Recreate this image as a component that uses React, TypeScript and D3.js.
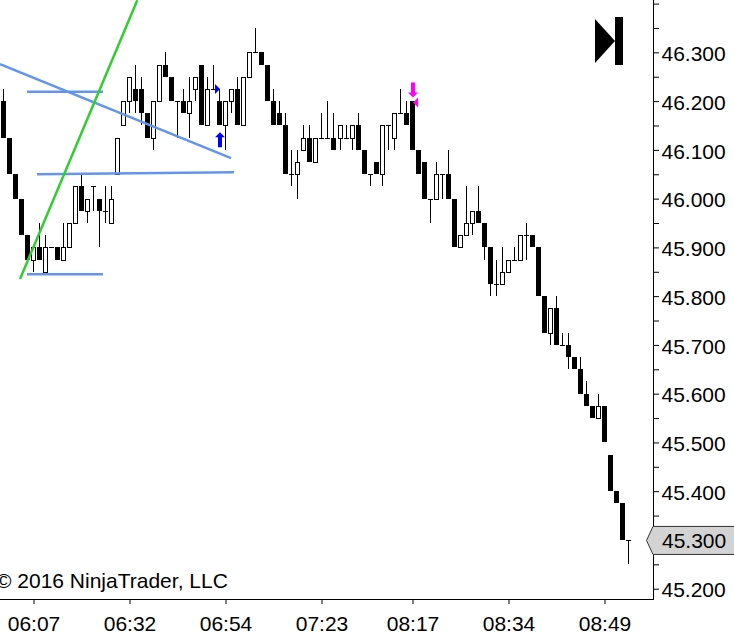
import { useEffect, useRef } from "react";
import * as d3 from "d3";

const opens = [46.2,46.125,46.05,46,45.925,45.875,45.9,45.85,45.9,45.9,45.875,45.9,45.95,46.025,45.975,46.025,46,45.975,45.95,46.05,46.15,46.2,46.225,46.225,46.175,46.125,46.2,46.275,46.25,46.2,46.2,46.175,46.225,46.275,46.15,46.225,46.2,46.15,46.2,46.225,46.15,46.25,46.3,46.3,46.275,46.2,46.175,46.15,46.05,46.05,46.1,46.125,46.075,46.125,46.125,46.125,46.125,46.125,46.125,46.15,46.1,46.05,46.075,46.05,46.15,46.125,46.175,46.175,46.2,46.1,46.075,46,46,46.05,46.05,46,45.9,45.925,45.95,45.975,45.95,45.9,45.825,45.825,45.85,45.875,45.875,45.925,45.925,45.9,45.8,45.725,45.775,45.7,45.7,45.675,45.65,45.6,45.575,45.55,45.575,45.475,45.4,45.375,45.3];
const highs = [46.225,46.125,46.05,46,45.925,45.9,45.95,45.925,45.9,45.9,45.95,45.95,46.025,46.05,46,46.025,46,46.025,46.025,46.125,46.2,46.25,46.275,46.25,46.175,46.2,46.275,46.3,46.25,46.2,46.225,46.25,46.25,46.275,46.25,46.275,46.225,46.2,46.225,46.25,46.25,46.3,46.35,46.3,46.275,46.225,46.2,46.175,46.1,46.1,46.15,46.15,46.125,46.175,46.2,46.175,46.15,46.15,46.15,46.175,46.1,46.05,46.075,46.15,46.15,46.175,46.225,46.2,46.2,46.1,46.075,46,46.075,46.05,46.1,46,45.925,46.025,45.975,46.025,45.95,45.9,45.875,45.9,45.875,45.9,45.925,45.95,45.925,45.9,45.8,45.775,45.8,45.725,45.725,45.675,45.675,45.625,45.575,45.6,45.575,45.475,45.4,45.375,45.3];
const lows = [46.125,46.05,46,45.925,45.875,45.85,45.875,45.85,45.9,45.875,45.875,45.9,45.95,45.975,45.95,45.975,45.9,45.95,45.95,46.05,46.15,46.175,46.175,46.15,46.125,46.1,46.2,46.25,46.2,46.125,46.175,46.125,46.2,46.15,46.15,46.225,46.15,46.1,46.175,46.15,46.15,46.25,46.3,46.275,46.2,46.15,46.15,46.05,46.025,46,46.1,46.075,46.075,46.125,46.125,46.1,46.1,46.125,46.1,46.1,46.05,46.025,46.05,46.025,46.1,46.1,46.175,46.15,46.1,46.05,46,45.95,46,46,46,45.9,45.9,45.925,45.925,45.95,45.875,45.8,45.8,45.825,45.85,45.875,45.875,45.875,45.9,45.8,45.725,45.7,45.7,45.7,45.65,45.65,45.6,45.575,45.55,45.55,45.5,45.4,45.375,45.3,45.25];
const closes = [46.125,46.05,46,45.925,45.875,45.9,45.875,45.9,45.9,45.875,45.9,45.95,46.025,45.975,46,46.025,45.975,45.975,46,46.125,46.2,46.25,46.2,46.175,46.125,46.2,46.275,46.25,46.2,46.2,46.175,46.2,46.25,46.15,46.225,46.225,46.15,46.2,46.225,46.15,46.25,46.3,46.3,46.275,46.2,46.15,46.15,46.05,46.05,46.075,46.125,46.075,46.125,46.125,46.125,46.1,46.15,46.125,46.15,46.1,46.05,46.05,46.05,46.15,46.15,46.175,46.175,46.15,46.1,46.05,46,46,46.05,46.05,46,45.9,45.925,45.95,45.975,45.95,45.9,45.825,45.825,45.85,45.875,45.875,45.925,45.925,45.9,45.8,45.725,45.775,45.7,45.7,45.675,45.65,45.6,45.575,45.55,45.575,45.5,45.4,45.375,45.3,45.3];

const timeTickBars = [5, 21, 37, 53, 68, 84, 100];
const timeTickLabels = ["06:07", "06:32", "06:54", "07:23", "08:17", "08:34", "08:49"];
const priceTicks = [45.25,45.3,45.35,45.4,45.45,45.5,45.55,45.6,45.65,45.7,45.75,45.8,45.85,45.9,45.95,46,46.05,46.1,46.15,46.2,46.25,46.3,46.35,46.4,45.2];
const priceLabels = [45.2,45.4,45.5,45.6,45.7,45.8,45.9,46,46.1,46.2,46.3];
const lastPrice = 45.3;

// drawing tools, [bar, price] at each end
const blueLines = [
  [[3.92, 46.219], [16.58, 46.219]],
  [[3.92, 45.845], [16.58, 45.845]],
  [[5.58, 46.05], [38.42, 46.054]],
  [[-0.58, 46.276], [37.92, 46.083]],
];
const greenLine = [[2.75, 45.835], [22.3, 46.407]];

const upArrows = [[36.08, 46.136]];
const downArrows = [[68.08, 46.2075]];
const rightMarkers = [[35.25, 46.225]];
const leftMarkers = [[68.1, 46.197]];

export default function App() {
  const svgRef = useRef<SVGSVGElement>(null);

  useEffect(() => {
    if (!svgRef.current) return;

    const svg = d3.select(svgRef.current);
    svg.selectAll("*").remove();

    const width = 734;
    const height = 641;
    const axisX = 653;
    const axisY = 599;
    const font = "'Liberation Sans', Arial, sans-serif";

    // the platform skips a pixel after bar 55
    const x = d3.scaleLinear().domain([0, 55, 56, 104]).range([3.5, 333.5, 340.5, 628.5]);
    const y = d3.scaleLinear().domain([45.2, 46.4]).range([588.7, 3.6]);
    const py = (v: number) => Math.round(y(v));

    const bars = opens.map((o, i) => ({ i, o, h: highs[i], l: lows[i], c: closes[i] }));

    const candles = svg.append("g").attr("shape-rendering", "crispEdges");

    // Wicks
    candles
      .selectAll("line")
      .data(bars.filter((b) => b.h !== b.l))
      .join("line")
      .attr("x1", (b) => x(b.i))
      .attr("x2", (b) => x(b.i))
      .attr("y1", (b) => py(b.h))
      .attr("y2", (b) => py(b.l))
      .attr("stroke", "#000");

    // Bodies
    candles
      .selectAll("rect.body")
      .data(bars.filter((b) => b.o !== b.c))
      .join("rect")
      .attr("class", "body")
      .attr("x", (b) => (b.c < b.o ? x(b.i) - 2.5 : x(b.i) - 2))
      .attr("y", (b) => (b.c < b.o ? py(b.o) : py(b.c) + 0.5))
      .attr("width", (b) => (b.c < b.o ? 5 : 4))
      .attr("height", (b) => (b.c < b.o ? py(b.c) - py(b.o) : py(b.o) - py(b.c)))
      .attr("fill", (b) => (b.c < b.o ? "#000" : "#fff"))
      .attr("stroke", (b) => (b.c < b.o ? "none" : "#000"));

    // Doji dashes
    candles
      .selectAll("rect.doji")
      .data(bars.filter((b) => b.o === b.c))
      .join("rect")
      .attr("class", "doji")
      .attr("x", (b) => x(b.i) - 2.5)
      .attr("y", (b) => py(b.o))
      .attr("width", 5)
      .attr("height", 1)
      .attr("fill", "#000");

    // Drawing tools
    const line = d3.line<number[]>().x((d) => x(d[0])).y((d) => y(d[1]));
    blueLines.forEach((l) => {
      svg.append("path")
        .attr("d", line(l) as string)
        .attr("fill", "none")
        .attr("stroke", "#6495ed")
        .attr("stroke-width", 2.5);
    });
    svg.append("path")
      .attr("d", line(greenLine) as string)
      .attr("fill", "none")
      .attr("stroke", "#32cd32")
      .attr("stroke-width", 2.5);

    // Signal arrows
    const arrow = (cx: number, tip: number, dir: number) =>
      `M${cx},${tip} l5,${dir * 5} h-3 v${dir * 10} h-4 v${-dir * 10} h-3 Z`;
    upArrows.forEach((a) => {
      svg.append("path").attr("d", arrow(x(a[0]), y(a[1]), 1)).attr("fill", "#0000ff");
    });
    downArrows.forEach((a) => {
      svg.append("path").attr("d", arrow(x(a[0]), y(a[1]), -1)).attr("fill", "#ff00ff");
    });
    rightMarkers.forEach((a) => {
      const mx = x(a[0]);
      const my = y(a[1]);
      svg.append("path").attr("d", `M${mx},${my - 5} L${mx + 5},${my} L${mx},${my + 5} Z`).attr("fill", "#0000ff");
    });
    leftMarkers.forEach((a) => {
      const mx = x(a[0]);
      const my = y(a[1]);
      svg.append("path").attr("d", `M${mx + 5},${my - 5} L${mx},${my} L${mx + 5},${my + 5} Z`).attr("fill", "#ff00ff");
    });

    // Skip to end button
    svg.append("path").attr("d", "M595,19 L615,41 L595,63 Z").attr("fill", "#000");
    svg.append("rect").attr("x", 615).attr("y", 17).attr("width", 8).attr("height", 48).attr("fill", "#000");

    // Copyright
    svg.append("text")
      .attr("x", -4)
      .attr("y", 588)
      .attr("font-family", font)
      .attr("font-size", 21)
      .attr("fill", "#000")
      .text("\u00a9 2016 NinjaTrader, LLC");

    // Price axis
    const yAxis = svg
      .append("g")
      .attr("transform", `translate(${axisX},0)`)
      .call(
        d3.axisRight(y)
          .tickValues(priceTicks)
          .tickSize(6)
          .tickPadding(2.5)
          .tickFormat((d) => (priceLabels.includes(+d) ? (+d).toFixed(3) : ""))
      );
    yAxis.select(".domain").remove();
    yAxis.selectAll("line").attr("stroke", "#000");
    yAxis.selectAll("text").attr("dy", "0.39em").attr("font-family", font).attr("font-size", 21).attr("fill", "#000");

    // Time axis
    const xAxis = svg
      .append("g")
      .attr("transform", `translate(0,${axisY})`)
      .call(
        d3.axisBottom(x)
          .tickValues(timeTickBars)
          .tickSize(5)
          .tickPadding(12)
          .tickFormat((_, i) => timeTickLabels[i])
      );
    xAxis.select(".domain").remove();
    xAxis.selectAll("line").attr("stroke", "#000");
    xAxis.selectAll("text").attr("font-family", font).attr("font-size", 21).attr("fill", "#000");

    const frame = svg.append("g").attr("shape-rendering", "crispEdges");
    frame.append("line").attr("x1", axisX + 0.5).attr("x2", axisX + 0.5).attr("y1", 0).attr("y2", axisY + 1).attr("stroke", "#000");
    frame.append("line").attr("x1", 0).attr("x2", axisX + 1).attr("y1", axisY + 0.5).attr("y2", axisY + 0.5).attr("stroke", "#000");

    // Last price marker
    const ly = y(lastPrice);
    svg.append("path")
      .attr("d", `M${width + 2},${ly - 13.5} H${axisX} L${axisX - 6.5},${ly + 0.5} L${axisX},${ly + 14.5} H${width + 2} Z`)
      .attr("fill", "#d3d3d3")
      .attr("stroke", "#333");
    svg.append("text")
      .attr("x", 662)
      .attr("y", ly + 8.5)
      .attr("font-family", font)
      .attr("font-size", 21)
      .attr("fill", "#000")
      .text(lastPrice.toFixed(3));

    svg.attr("width", width).attr("height", height);
  }, []);

  return (
    <svg
      ref={svgRef}
      style={{ position: "absolute", left: 0, top: 0, background: "#fff", display: "block" }}
    />
  );
}
